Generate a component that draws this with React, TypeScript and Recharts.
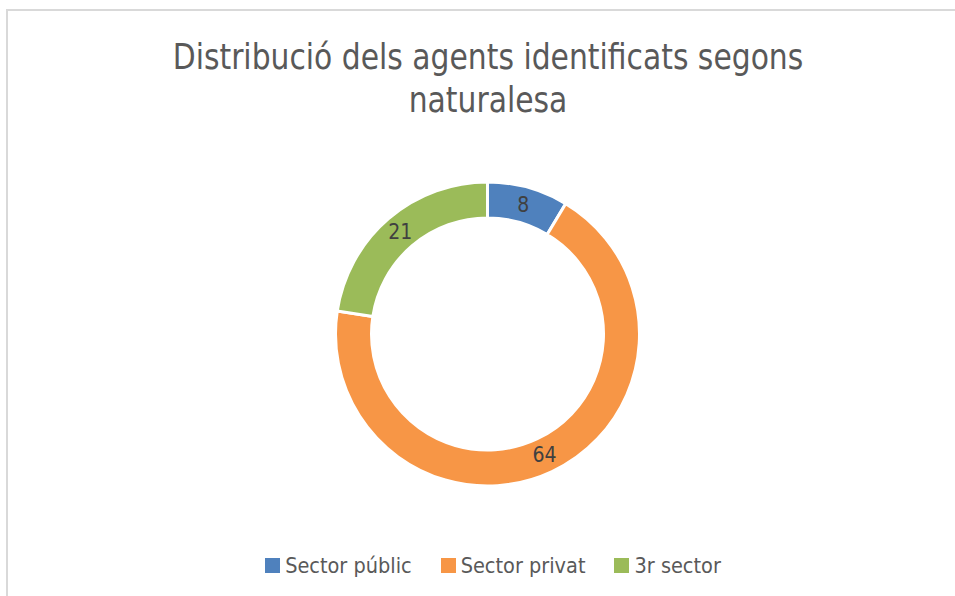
import React from 'react';
import { PieChart, Pie, Cell, Legend } from 'recharts';

const categories = ['Sector públic', 'Sector privat', '3r sector'];
const values = [8, 64, 21];
const colors = ['#4f81bd', '#f79646', '#9bbb59'];
const titleLines = ['Distribució dels agents identificats segons', 'naturalesa'];

const data = categories.map((name, i) => ({ name, value: values[i] }));

const FONT = "'DejaVu Sans Condensed', 'Open Sans', sans-serif";
const RADIAN = Math.PI / 180;

const renderLabel = (props: any) => {
  const { cx, cy, midAngle, innerRadius, outerRadius, value } = props;
  const r = (innerRadius + outerRadius) / 2;
  const x = cx + r * Math.cos(-midAngle * RADIAN);
  const y = cy + r * Math.sin(-midAngle * RADIAN);
  return (
    <text x={x} y={y} fill="#404040" fontSize={21} fontFamily={FONT} textAnchor="middle" dominantBaseline="central">
      {value}
    </text>
  );
};

const renderLegend = () => (
  <div style={{ display: 'flex', justifyContent: 'center', alignItems: 'center', fontFamily: FONT, fontSize: 21.5, color: '#595959' }}>
    {data.map((d, i) => (
      <div key={d.name} style={{ display: 'flex', alignItems: 'center', marginRight: i < data.length - 1 ? 29 : 0 }}>
        <span style={{ display: 'inline-block', width: 15, height: 15, background: colors[i], marginRight: 5 }} />
        <span>{d.name}</span>
      </div>
    ))}
  </div>
);

export default function App() {
  return (
    <div style={{ position: 'absolute', left: 0, top: 0, width: 955, height: 596, overflow: 'hidden', background: '#fff' }}>
      <div style={{ position: 'absolute', left: 6, top: 9, width: 1100, height: 1100, border: '2px solid #d9d9d9' }} />
      <div style={{ position: 'absolute', left: 0, top: 35, width: 976, textAlign: 'center', fontFamily: FONT, fontSize: 36, lineHeight: '43px', color: '#595959', transform: 'scaleX(0.92)', transformOrigin: '488px 0' }}>
        {titleLines.map((t) => (
          <div key={t}>{t}</div>
        ))}
      </div>
      <div style={{ position: 'absolute', left: 0, top: 0 }}>
        <PieChart width={955} height={596} margin={{ top: 0, right: 0, bottom: 0, left: 0 }}>
          <Pie
            data={data}
            dataKey="value"
            nameKey="name"
            cx={487.5}
            cy={334}
            innerRadius={116}
            outerRadius={152}
            startAngle={90}
            endAngle={-270}
            stroke="#fff"
            strokeWidth={3}
            label={renderLabel}
            labelLine={false}
            isAnimationActive={false}
          >
            {data.map((d, i) => (
              <Cell key={d.name} fill={colors[i]} />
            ))}
          </Pie>
          <Legend content={renderLegend} wrapperStyle={{ top: 553, left: 5, width: 976 }} />
        </PieChart>
      </div>
    </div>
  );
}
